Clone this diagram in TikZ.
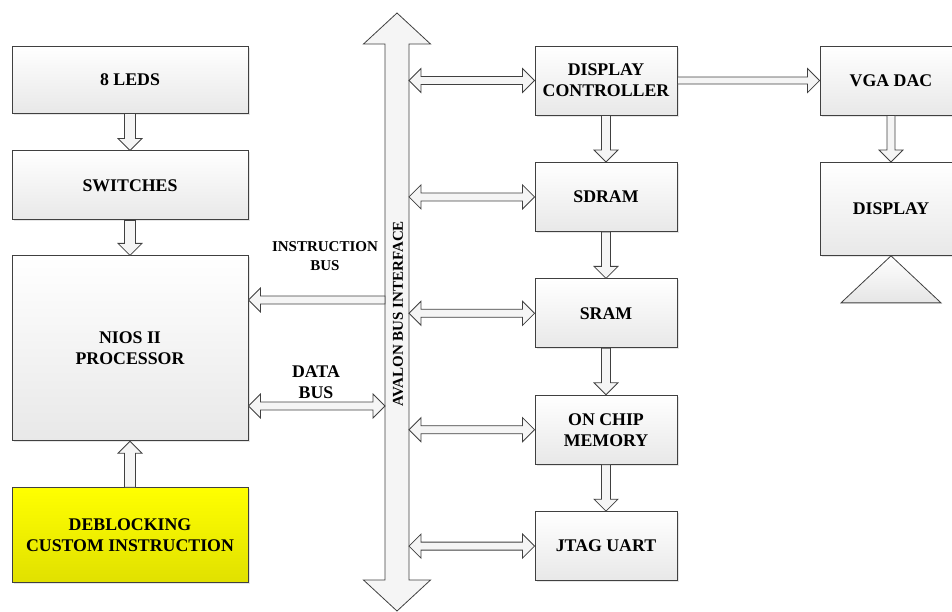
\documentclass[tikz,border=0pt]{standalone}
\usepackage{fontspec}
\setmainfont{Liberation Serif}
\usetikzlibrary{positioning,calc,shadows}
% head half width and head length of the block arrows
\def\hw{12pt}
\def\hl{12pt}
\newcommand{\blk}[3][4.5pt]{%
  \path (#2) coordinate (ba) (#3) coordinate (bb) ($(bb)!\hl!(ba)$) coordinate (bh);
  \filldraw[barr] ($(ba)!#1!90:(bb)$) -- ($(bh)!#1!90:(bb)$) -- ($(bh)!\hw!90:(bb)$) -- (bb)
    -- ($(bh)!\hw!-90:(bb)$) -- ($(bh)!#1!-90:(bb)$) -- ($(ba)!#1!-90:(bb)$) -- cycle;}
\newcommand{\dblk}[3][4pt]{%
  \path (#2) coordinate (ba) (#3) coordinate (bb) ($(bb)!\hl!(ba)$) coordinate (bh)
    ($(ba)!\hl!(bb)$) coordinate (bg);
  \filldraw[barr] (ba) -- ($(bg)!\hw!-90:(bb)$) -- ($(bg)!#1!-90:(bb)$) -- ($(bh)!#1!-90:(bb)$)
    -- ($(bh)!\hw!-90:(bb)$) -- (bb) -- ($(bh)!\hw!90:(bb)$) -- ($(bh)!#1!90:(bb)$)
    -- ($(bg)!#1!90:(bb)$) -- ($(bg)!\hw!90:(bb)$) -- cycle;}

\begin{document}
\begin{tikzpicture}[
  x=1pt, y=-1pt,
  font=\bfseries\fontsize{17.8}{21}\selectfont,
  box/.style={draw=black!75, line width=0.9pt, align=center, inner sep=2pt,
    top color=white, bottom color=black!9,
    drop shadow={shadow xshift=1.5pt, shadow yshift=-1.5pt, opacity=0.2}},
  lbox/.style={box, minimum width=236pt},
  rbox/.style={box, minimum width=142pt, minimum height=69pt},
  barr/.style={draw=black!75, line width=0.8pt, fill=black!4, line join=miter},
  small/.style={font=\bfseries\fontsize{15}{19}\selectfont, align=center}
]
\clip (0,0) rectangle (952,611);
% left column
\node[lbox, minimum height=67pt] (leds) at (130,79.5) {8 LEDS};
\node[lbox, minimum height=69pt, below=37pt of leds] (sw) {SWITCHES};
\node[lbox, minimum height=185pt, below=35pt of sw] (nios) {NIOS II\\PROCESSOR};
\node[lbox, minimum height=95pt, below=46pt of nios, top color=yellow,
  bottom color=yellow!88!black] (deb) {DEBLOCKING\\CUSTOM INSTRUCTION};
% right column
\node[rbox] (dc) at (606,80.5) {DISPLAY\\CONTROLLER};
\node[rbox, below=46.5pt of dc] (sdram) {SDRAM};
\node[rbox, below=46.5pt of sdram] (sram) {SRAM};
\node[rbox, below=46.5pt of sram] (ocm) {ON CHIP\\MEMORY};
\node[rbox, below=46.5pt of ocm] (jtag) {JTAG UART};
\node[rbox] (vga) at (891,80.5) {VGA DAC};
\node[rbox, minimum height=93pt, below=46.5pt of vga] (disp) {DISPLAY};
\filldraw[barr, top color=white, bottom color=black!10] (disp.south) -- ++(-50,47) -- ++(100,0) -- cycle;
% avalon bus
\coordinate (bustop) at (397,13);
\coordinate (busbot) at (397,611);
\coordinate (busL) at (385,0);
\coordinate (busR) at (409,0);
{\def\hw{33.5pt}\def\hl{31pt}\dblk[12pt]{bustop}{busbot}}
\node[small, rotate=90] (buslbl) at (398,313.5) {AVALON BUS INTERFACE};
% processor side
\coordinate (ib) at (0,300);
\coordinate (db) at (0,406);
\blk[4pt]{busL |- ib}{nios.east |- ib}
\dblk{nios.east |- db}{busL |- db}
\node[small] (iblbl) at (325,256.5) {INSTRUCTION\\BUS};
\node[align=center] (dblbl) at (316,382.5) {DATA\\BUS};
\blk[5.5pt]{leds.south}{sw.north}
\blk[5.5pt]{sw.south}{nios.north}
\blk[5.5pt]{deb.north}{nios.south}
% peripherals
\dblk{busR |- dc.west}{dc.west}
\dblk{busR |- sdram.west}{sdram.west}
\dblk{busR |- sram.west}{sram.west}
\dblk{busR |- ocm.west}{ocm.west}
\dblk{busR |- jtag.west}{jtag.west}
\blk{dc.south}{sdram.north}
\blk{sdram.south}{sram.north}
\blk{sram.south}{ocm.north}
\blk{ocm.south}{jtag.north}
\blk[3.5pt]{dc.east}{vga.west}
\blk[4pt]{vga.south}{disp.north}
\end{tikzpicture}
\end{document}
